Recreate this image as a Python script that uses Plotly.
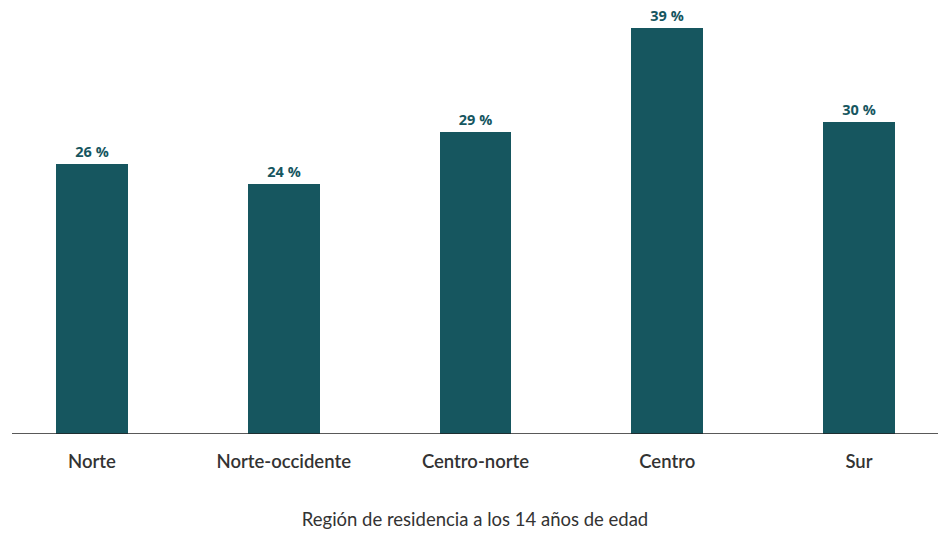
import plotly.graph_objects as go

regions = ["Norte", "Norte-occidente", "Centro-norte", "Centro", "Sur"]
shares = [26, 24, 29, 39, 30]
value_labels = [f"{v} %" for v in shares]

bar_color = "#16565F"
x_pos = list(range(len(regions)))

fig = go.Figure(
    go.Bar(
        x=x_pos,
        y=shares,
        width=0.375,
        marker=dict(color=bar_color, line=dict(width=0)),
        text=value_labels,
        textposition="outside",
        cliponaxis=False,
        textfont=dict(family="Open Sans", size=14.5, color=bar_color, weight=700),
    )
)

fig.update_layout(
    width=941,
    height=559,
    margin=dict(l=12, r=3, t=10, b=125),
    plot_bgcolor="white",
    paper_bgcolor="white",
    showlegend=False,
    bargap=0,
    xaxis=dict(
        range=[-0.417, 4.412],
        tickmode="array",
        tickvals=x_pos,
        ticktext=regions,
        showgrid=False,
        zeroline=False,
        showline=False,
        ticks="",
        tickfont=dict(family="Lato", size=18.5, color="#333333", weight=600),
        ticklabelstandoff=14,
        title=dict(
            text="Región de residencia a los 14 años de edad",
            font=dict(family="Lato", size=18.5, color="#333333"),
            standoff=42,
        ),
        fixedrange=True,
    ),
    yaxis=dict(
        range=[0, 40.77],
        visible=False,
        fixedrange=True,
    ),
    shapes=[
        dict(
            type="line", xref="paper", yref="y",
            x0=0, x1=1, y0=0, y1=0,
            line=dict(color="#222222", width=1.5),
        )
    ],
)

fig.write_html("out.html")
